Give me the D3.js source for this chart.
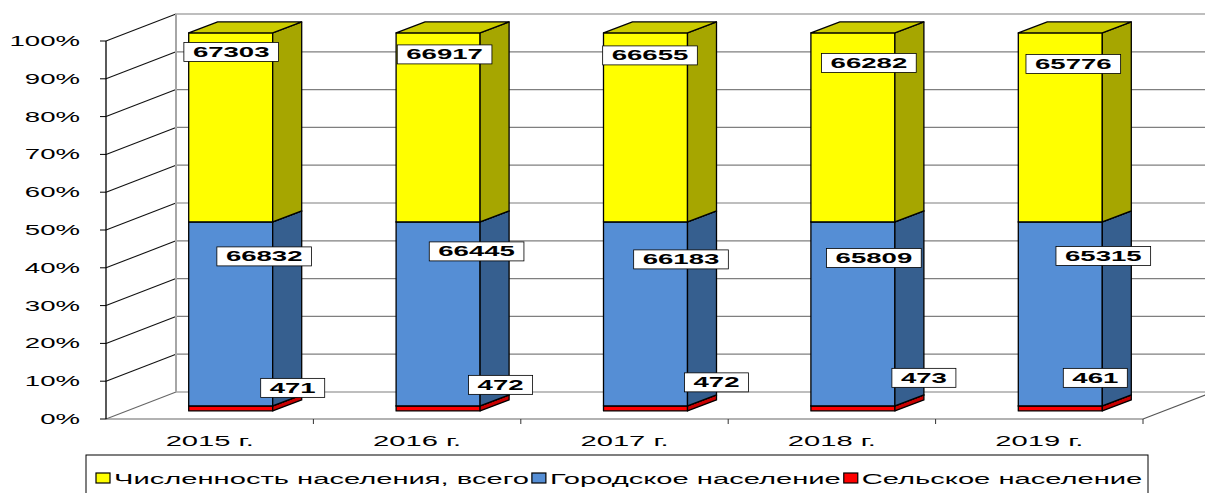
<!DOCTYPE html>
<meta charset="utf-8">
<style>
body { margin: 0; background: #fff; }
svg { font-family: "Liberation Sans", Arial, sans-serif; }
</style>
<svg width="1205" height="493"></svg>
<script src="https://cdn.jsdelivr.net/npm/d3@7"></script>
<script>
// данные
var years = ["2015 г.", "2016 г.", "2017 г.", "2018 г.", "2019 г."];
var total = [67303, 66917, 66655, 66282, 65776];
var urban = [66832, 66445, 66183, 65809, 65315];
var rural = [471, 472, 472, 473, 461];
var seriesNames = ["Численность населения, всего", "Городское население", "Сельское население"];
var valueTicks = [0, 0.1, 0.2, 0.3, 0.4, 0.5, 0.6, 0.7, 0.8, 0.9, 1];

// положения подписей (сдвиги от центра столбца / верха сегмента), подвинуты вручную
var offTotal = [[0.5, 19], [6.5, 21.5], [4.5, 22.5], [16, 30], [13, 31]];
var offUrban = [[33.5, 34.5], [38.5, 29.5], [35.5, 37.5], [21, 36], [43, 34]];
var offRural = [[62, -21.7], [62.5, -24.7], [71, -27.2], [71, -31.7], [35, -31.7]];

var SX = 1.97; // картинка растянута по горизонтали
var svg = d3.select("svg");
var x0 = 106, x1 = 1143, yBot = 419, yTop = 41;
var D = {dx: 70, dy: -27};      // глубина стенок
var F = {dx: 21, dy: -8.1};     // передняя грань столбцов
var B = {dx: 29, dy: -11};      // глубина столбца
var minH = 5;                   // тонкий сегмент рисуется не тоньше (как в Excel)

var x = d3.scaleBand().domain(years).range([x0, x1]).paddingInner(0.595).paddingOuter(0.2975);
var y = d3.scaleLinear().domain([0, 1]).range([yBot, yTop]);
var step = x.step();

var rows = years.map((yr, i) => ({year: yr, rural: rural[i], urban: urban[i], total: total[i]}));
var keys = ["rural", "urban", "total"];
var stack = d3.stack().keys(keys).offset(d3.stackOffsetExpand)(rows);

var front = {total: "#ffff00", urban: "#558ed5", rural: "#ff0000"};
var side = {total: "#a6a600", urban: "#365f8f", rural: "#c80000"};
var top_ = {total: "#cccc00", urban: "#4a7cb8", rural: "#e00000"};

// стенки
var walls = svg.append("g");
walls.selectAll(".back").data(valueTicks).enter().append("line")
    .attr("x1", x0 + D.dx).attr("x2", x1 + D.dx)
    .attr("y1", d => y(d) + D.dy).attr("y2", d => y(d) + D.dy)
    .attr("stroke", "#7f7f7f").attr("stroke-width", 1.2);
walls.selectAll(".side").data(valueTicks).enter().append("line")
    .attr("x1", x0).attr("x2", x0 + D.dx)
    .attr("y1", d => y(d)).attr("y2", d => y(d) + D.dy)
    .attr("stroke", (d, i) => i == 0 ? "#666" : "#111").attr("stroke-width", 1.1);
walls.append("line")
    .attr("x1", x0 + D.dx).attr("x2", x0 + D.dx)
    .attr("y1", y(1) + D.dy).attr("y2", y(0) + D.dy)
    .attr("stroke", "#a6a6a6").attr("stroke-width", 2);
// пол
walls.append("line").attr("x1", x0).attr("x2", x1).attr("y1", yBot).attr("y2", yBot)
    .attr("stroke", "#666").attr("stroke-width", 1.2);
walls.append("line").attr("x1", x1).attr("x2", x1 + D.dx).attr("y1", yBot).attr("y2", yBot + D.dy)
    .attr("stroke", "#555").attr("stroke-width", 1.1);
walls.selectAll(".ctick").data(years).enter().append("line")
    .attr("x1", d => x(d) + x.bandwidth() + step * 0.2975).attr("x2", d => x(d) + x.bandwidth() + step * 0.2975)
    .attr("y1", yBot).attr("y2", yBot + 5)
    .attr("stroke", "#333");
// ось значений
walls.append("line").attr("x1", x0).attr("x2", x0).attr("y1", yTop).attr("y2", yBot)
    .attr("stroke", "#000").attr("stroke-width", 1.3);
walls.selectAll(".vtick").data(valueTicks).enter().append("line")
    .attr("x1", x0 - 6).attr("x2", x0).attr("y1", d => y(d)).attr("y2", d => y(d))
    .attr("stroke", "#000");

// столбцы
var bars = svg.append("g");
years.forEach((yr, i) => {
  var xb = x(yr) + F.dx, bw = x.bandwidth();
  var base = y(0) + F.dy;
  stack.forEach(s => {
    var d = s[i];
    var yt = y(d[1]) + F.dy, yb = y(d[0]) + F.dy;
    // нижний сегмент - не тоньше minH
    if (yb == base) yt = Math.min(yt, base - minH);
    else yb = Math.min(yb, base - minH);
    var g = bars.append("g").attr("stroke", "#000").attr("stroke-width", 1.3).attr("stroke-linejoin", "round");
    g.append("rect").attr("x", xb).attr("y", yt).attr("width", bw).attr("height", yb - yt)
        .attr("fill", front[s.key]);
    g.append("path").attr("fill", side[s.key])
        .attr("d", `M${xb + bw},${yt}L${xb + bw + B.dx},${yt + B.dy}L${xb + bw + B.dx},${yb + B.dy}L${xb + bw},${yb}Z`);
    g.append("path").attr("fill", top_[s.key])
        .attr("d", `M${xb},${yt}L${xb + B.dx},${yt + B.dy}L${xb + bw + B.dx},${yt + B.dy}L${xb + bw},${yt}Z`);
  });
});

// растянутый текст
function stretched(g, txt, cx, cy, anchor) {
  return g.append("text")
      .attr("transform", `translate(${cx},${cy}) scale(${SX},1)`)
      .attr("text-anchor", anchor || "middle")
      .text(txt);
}

// подписи данных
var labels = svg.append("g").attr("font-size", 14).attr("font-weight", "bold");
var offs = {total: offTotal, urban: offUrban, rural: offRural};
var vals = {total: total, urban: urban, rural: rural};
stack.forEach(s => {
  years.forEach((yr, i) => {
    var d = s[i];
    var cx = x(yr) + F.dx + x.bandwidth() / 2 + offs[s.key][i][0];
    var cy = y(d[1]) + F.dy + offs[s.key][i][1];
    var g = labels.append("g");
    var rect = g.append("rect").attr("fill", "#fff").attr("stroke", "#000").attr("stroke-width", 0.8);
    var t = stretched(g, vals[s.key][i], cx, cy + 5);
    var w = t.node().getComputedTextLength() * SX + 18;
    rect.attr("x", cx - w / 2).attr("y", cy - 9.5).attr("width", w).attr("height", 19);
  });
});

// подписи осей
var axisText = svg.append("g").attr("font-size", 14).attr("fill", "#000");
valueTicks.forEach(v => stretched(axisText, d3.format(".0%")(v), 80, y(v) + 5, "end"));
var catText = svg.append("g").attr("font-size", 14.8).attr("fill", "#000");
years.forEach(yr => stretched(catText, yr, x(yr) + x.bandwidth() / 2, 446));

// легенда
var leg = svg.append("g").attr("font-size", 14.8);
leg.append("rect").attr("x", 86).attr("y", 455).attr("width", 1062).attr("height", 60)
    .attr("fill", "#fff").attr("stroke", "#000").attr("stroke-width", 1);
var lx = 96;
keys.slice().reverse().forEach((k, i) => {
  leg.append("rect").attr("x", lx).attr("y", 473).attr("width", 14).attr("height", 10)
      .attr("fill", front[k]).attr("stroke", "#000").attr("stroke-width", 1.2);
  var t = stretched(leg, seriesNames[i], lx + 18, 484, "start");
  lx += 18 + t.node().getComputedTextLength() * SX + 3;
});
</script>
